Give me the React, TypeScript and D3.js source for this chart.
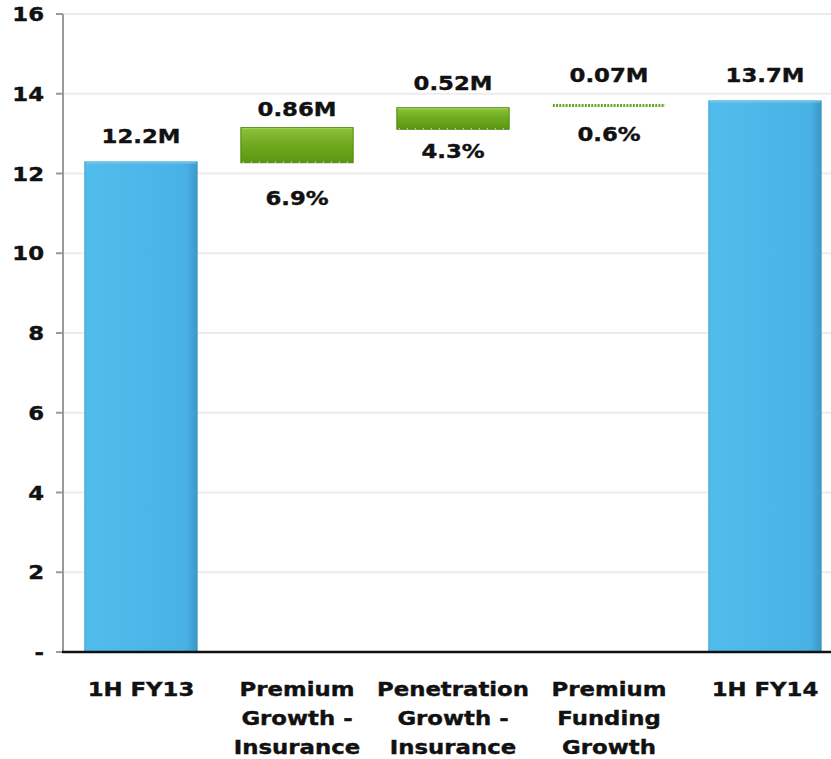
import React from 'react';
import { scaleBand, scaleLinear } from 'd3';

// waterfall data (values in millions)
const categories = ['1H FY13', 'Premium Growth - Insurance', 'Penetration Growth - Insurance', 'Premium Funding Growth', '1H FY14'];
const categoryLines = [['1H FY13'], ['Premium', 'Growth -', 'Insurance'], ['Penetration', 'Growth -', 'Insurance'], ['Premium', 'Funding', 'Growth'], ['1H FY14']];
const barBase = [0, 12.27, 13.11, 13.67, 0];
const barValue = [12.29, 0.88, 0.54, 0.07, 13.82];
const barKind = ['total', 'delta', 'delta', 'delta', 'total'];
const valueLabels = ['12.2M', '0.86M', '0.52M', '0.07M', '13.7M'];
const pctLabels = ['', '6.9%', '4.3%', '0.6%', ''];
const yTicks = [0, 2, 4, 6, 8, 10, 12, 14, 16];

const W = 831;
const H = 759;
const FONT = '"DejaVu Sans", Verdana, sans-serif';

// bold label, stretched a bit to look like the wide Verdana bold of the original
const Label = ({ x, y, text, anchor = 'middle' }: { x: number; y: number; text: string; anchor?: string }) => (
    <g transform={`translate(${x},${y}) scale(1.14,1)`}>
        <text textAnchor={anchor} fontFamily={FONT} fontWeight="bold" fontSize={20} fill="#111"
            stroke="#111" strokeWidth={0.4}>{text}</text>
    </g>
);

const App = () => {
    const x = scaleBand<string>()
        .domain(categories)
        .range([63, 843])
        .paddingInner(0.28)
        .paddingOuter(0.14);
    const y = scaleLinear().domain([0, 16]).range([652, 14]);

    // hand tuned label offsets (px) to follow the original layout
    const topOffset = [19, 12, 18, 22, 19];
    const pctOffset = [0, 42, 29, 34, 0];

    return (
        <svg width={W} height={H} style={{ position: 'absolute', left: 0, top: 0 }}>
            <defs>
                <linearGradient id="blueFill" x1="0" y1="0" x2="1" y2="0">
                    <stop offset="0" stopColor="#52bcec" />
                    <stop offset="0.9" stopColor="#48b2e6" />
                    <stop offset="1" stopColor="#3c97c6" />
                </linearGradient>
                <linearGradient id="greenFill" x1="0" y1="0" x2="0" y2="1">
                    <stop offset="0" stopColor="#8cc33a" />
                    <stop offset="0.5" stopColor="#6ea91f" />
                    <stop offset="1" stopColor="#5a9612" />
                </linearGradient>
            </defs>

            {yTicks.filter((t) => t > 0).map((t) => (
                <line key={'g' + t} x1={64} x2={W} y1={y(t)} y2={y(t)} stroke="#ececec" strokeWidth={2} />
            ))}

            {categories.map((c, i) => {
                const x0 = x(c) as number;
                const bw = x.bandwidth();
                const top = y(barBase[i] + barValue[i]);
                const bottom = y(barBase[i]);
                const h = bottom - top;
                if (barKind[i] === 'total') {
                    return (
                        <g key={c}>
                            <rect x={x0} y={top} width={bw} height={h} fill="url(#blueFill)" stroke="#3d9fd0" strokeWidth={1} />
                            <line x1={x0 + 1} x2={x0 + bw - 1} y1={top + 1} y2={top + 1} stroke="#7fd0f5" strokeWidth={1} />
                        </g>
                    );
                }
                if (h < 4) {
                    return (
                        <line key={c} x1={x0} x2={x0 + bw} y1={(top + bottom) / 2} y2={(top + bottom) / 2}
                            stroke="#6aa621" strokeWidth={3} strokeDasharray="2,1.2" />
                    );
                }
                return (
                    <g key={c}>
                        <rect x={x0} y={top} width={bw} height={h} fill="url(#greenFill)" stroke="#4f8a10" strokeWidth={1} />
                        <line x1={x0 + 1} x2={x0 + bw - 1} y1={top + 1} y2={top + 1} stroke="#a6d35c" strokeWidth={1} />
                        <line x1={x0 + 2} x2={x0 + bw - 2} y1={bottom - 0.5} y2={bottom - 0.5} stroke="#ffffff"
                            strokeWidth={1} strokeDasharray="1,7" />
                    </g>
                );
            })}

            {/* y axis */}
            <line x1={63} x2={63} y1={y(16)} y2={y(0)} stroke="#9a9a9a" strokeWidth={2} />
            {yTicks.map((t) => (
                <g key={'t' + t}>
                    <line x1={56} x2={63} y1={y(t)} y2={y(t)} stroke="#9a9a9a" strokeWidth={2} />
                    <Label x={44} y={y(t) + 7} text={t === 0 ? '-' : String(t)} anchor="end" />
                </g>
            ))}
            {/* x axis */}
            <line x1={62} x2={W} y1={y(0)} y2={y(0)} stroke="#111" strokeWidth={2.5} />

            {categories.map((c, i) => {
                const cx = (x(c) as number) + x.bandwidth() / 2;
                const top = y(barBase[i] + barValue[i]);
                const bottom = y(barBase[i]);
                return (
                    <g key={'l' + c}>
                        <Label x={cx} y={top - topOffset[i]} text={valueLabels[i]} />
                        {pctLabels[i] && <Label x={cx} y={bottom + pctOffset[i]} text={pctLabels[i]} />}
                        {categoryLines[i].map((ln, k) => (
                            <Label key={k} x={cx} y={696 + k * 29} text={ln} />
                        ))}
                    </g>
                );
            })}
        </svg>
    );
};

export default App;
